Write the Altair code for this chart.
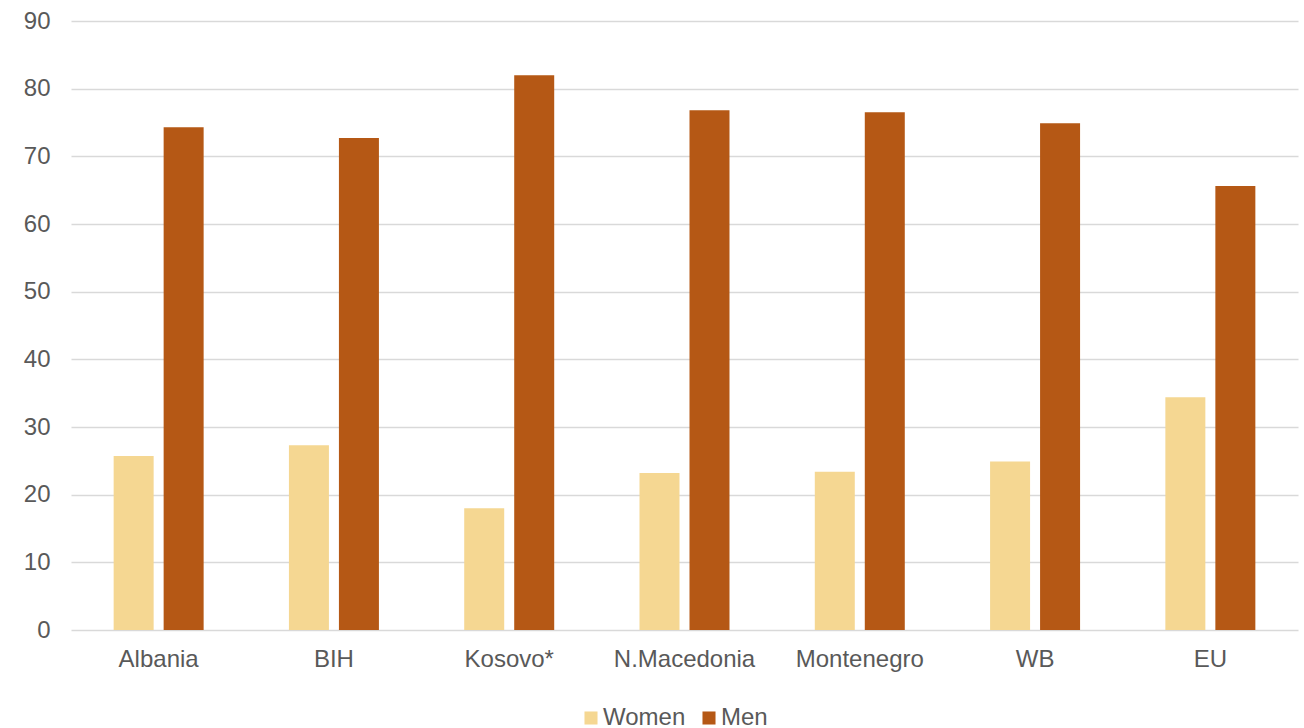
import altair as alt
import pandas as pd

# Share of managers by sex, per economy (%)
countries = ["Albania", "BIH", "Kosovo*", "N.Macedonia", "Montenegro", "WB", "EU"]
women = [25.7, 27.3, 18.0, 23.2, 23.4, 24.9, 34.4]
men = [74.3, 72.7, 82.0, 76.8, 76.5, 74.9, 65.6]
series = ["Women", "Men"]
colors = ["#F5D792", "#B55815"]
y_ticks = [0, 10, 20, 30, 40, 50, 60, 70, 80, 90]

rows = []
for c, w, m in zip(countries, women, men):
    rows.append({"country": c, "sex": "Women", "value": w})
    rows.append({"country": c, "sex": "Men", "value": m})
df = pd.DataFrame(rows)

FONT = "Liberation Sans"
TXT = "#595959"

chart = (
    alt.Chart(df)
    .mark_bar()
    .encode(
        x=alt.X(
            "country:N",
            sort=countries,
            scale=alt.Scale(paddingInner=0, paddingOuter=0),
            axis=alt.Axis(
                title=None,
                labelAngle=0,
                domain=False,
                ticks=False,
                tickSize=0,
                grid=False,
                labelPadding=17,
                labelFont=FONT,
                labelFontSize=24,
                labelColor=TXT,
            ),
        ),
        xOffset=alt.XOffset(
            "sex:N",
            sort=series,
            scale=alt.Scale(paddingInner=0.2, paddingOuter=0.853),
        ),
        y=alt.Y(
            "value:Q",
            scale=alt.Scale(domain=[0, 90], nice=False),
            axis=alt.Axis(
                title=None,
                values=y_ticks,
                domain=False,
                ticks=False,
                tickSize=0,
                labelPadding=21,
                labelFont=FONT,
                labelFontSize=24,
                labelColor=TXT,
                gridColor="#D9D9D9",
                gridWidth=1.5,
            ),
        ),
        color=alt.Color(
            "sex:N",
            sort=series,
            scale=alt.Scale(domain=series, range=colors),
            legend=alt.Legend(
                title=None,
                orient="none",
                direction="horizontal",
                legendX=508,
                legendY=685,
                symbolType="square",
                symbolSize=170,
                symbolStrokeWidth=0,
                labelFont=FONT,
                labelFontSize=24,
                labelColor=TXT,
                labelOffset=0,
                columnPadding=11,
            ),
        ),
    )
    .properties(
        width=1227,
        height=609,
        background="white",
        autosize=alt.AutoSizeParams(type="none"),
        padding={"left": 71, "top": 21, "right": 6, "bottom": 98},
    )
    .configure_view(strokeOpacity=0, strokeWidth=0)
)

chart.save("out.html", embed_options={"renderer": "svg", "actions": False})
